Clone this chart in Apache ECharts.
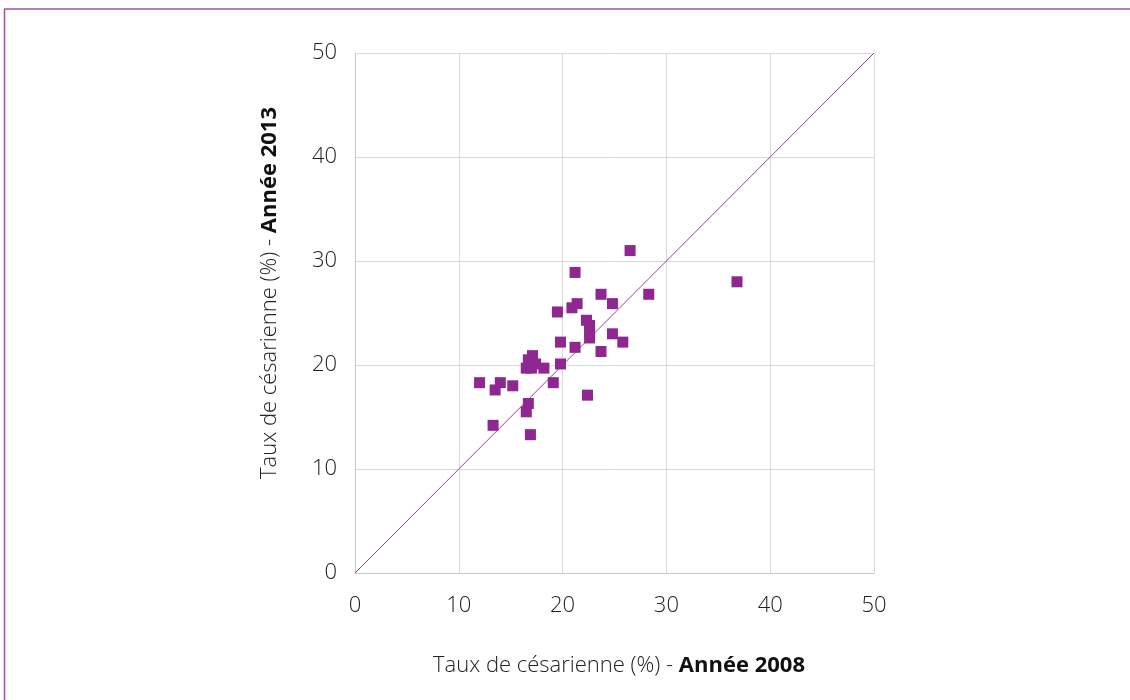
<!DOCTYPE html>
<html>
<head>
<meta charset="utf-8">
<script src="https://cdn.jsdelivr.net/npm/echarts@6/dist/echarts.min.js"></script>
<style>
html,body{margin:0;padding:0;background:#fff;}
#chart{width:1130px;height:700px;}
</style>
</head>
<body>
<div id="chart"></div>
<script>
// Taux de césarienne (%) : 2008 (x) vs 2013 (y)
const rate2008 = [26.5,21.2,23.7,28.3,24.8,21.4,20.9,19.5,22.3,22.6,22.6,22.6,24.8,25.8,19.8,21.2,23.7,17.1,16.7,17.4,16.5,18.2,19.8,17.0,12.0,14.0,13.5,15.2,19.1,22.4,16.7,16.5,13.3,16.9,36.8];
const rate2013 = [31.0,28.9,26.8,26.8,25.9,25.9,25.5,25.1,24.3,23.8,23.2,22.6,23.0,22.2,22.2,21.7,21.3,20.9,20.5,20.1,19.7,19.7,20.1,19.7,18.3,18.3,17.6,18.0,18.3,17.1,16.3,15.5,14.2,13.3,28.0];
const diagonalX = [0, 50];
const diagonalY = [0, 50];
const tickValues = [0, 10, 20, 30, 40, 50];

const points = rate2008.map((x, i) => [x, rate2013[i]]);
const diag = diagonalX.map((x, i) => [x, diagonalY[i]]);

const purple = '#8E278F';
const fontFam = "'Open Sans', 'Noto Sans', sans-serif";

const chart = echarts.init(document.getElementById('chart'), null, {renderer: 'canvas'});
chart.setOption({
  backgroundColor: '#fff',
  animation: false,
  graphic: [
    {type: 'line', shape: {x1: 4, y1: 9, x2: 1130, y2: 9}, style: {stroke: '#A34DA6', lineWidth: 1.5}},
    {type: 'line', shape: {x1: 4.5, y1: 9, x2: 4.5, y2: 700}, style: {stroke: '#A34DA6', lineWidth: 1.5}}
  ],
  grid: {left: 355, top: 53, width: 519, height: 520, containLabel: false},
  xAxis: {
    type: 'value', min: tickValues[0], max: tickValues[tickValues.length - 1], interval: 10,
    axisLine: {show: true, lineStyle: {color: '#c8c8c8'}},
    axisTick: {show: false},
    splitLine: {show: true, lineStyle: {color: '#d9d9d9'}},
    axisLabel: {color: '#222', fontSize: 22, fontFamily: fontFam, fontWeight: 300, margin: 22},
    name: '{n|Taux de césarienne (%) - }{b|Année 2008}',
    nameLocation: 'middle', nameGap: 82,
    nameTextStyle: {
      padding: [0, 0, 0, 9],
      rich: {
        n: {fontSize: 22, fontFamily: fontFam, fontWeight: 300, color: '#222'},
        b: {fontSize: 22, fontFamily: fontFam, fontWeight: 'bold', color: '#111'}
      }
    }
  },
  yAxis: {
    type: 'value', min: tickValues[0], max: tickValues[tickValues.length - 1], interval: 10,
    axisLine: {show: true, lineStyle: {color: '#c8c8c8'}},
    axisTick: {show: false},
    splitLine: {show: true, lineStyle: {color: '#d9d9d9'}},
    axisLabel: {color: '#222', fontSize: 22, fontFamily: fontFam, fontWeight: 300, margin: 18},
    name: '{n|Taux de césarienne (%) - }{b|Année 2013}',
    nameLocation: 'middle', nameGap: 74,
    nameTextStyle: {
      padding: [0, 0, 0, 40],
      rich: {
        n: {fontSize: 22, fontFamily: fontFam, fontWeight: 300, color: '#222'},
        b: {fontSize: 22, fontFamily: fontFam, fontWeight: 'bold', color: '#111'}
      }
    }
  },
  series: [
    {
      type: 'line', data: diag, symbol: 'none', silent: true,
      lineStyle: {color: '#9B3C9E', width: 1}, z: 1
    },
    {
      type: 'scatter', data: points, symbol: 'rect', symbolSize: 11,
      itemStyle: {color: purple, opacity: 1}, z: 2
    }
  ]
});
</script>
</body>
</html>
